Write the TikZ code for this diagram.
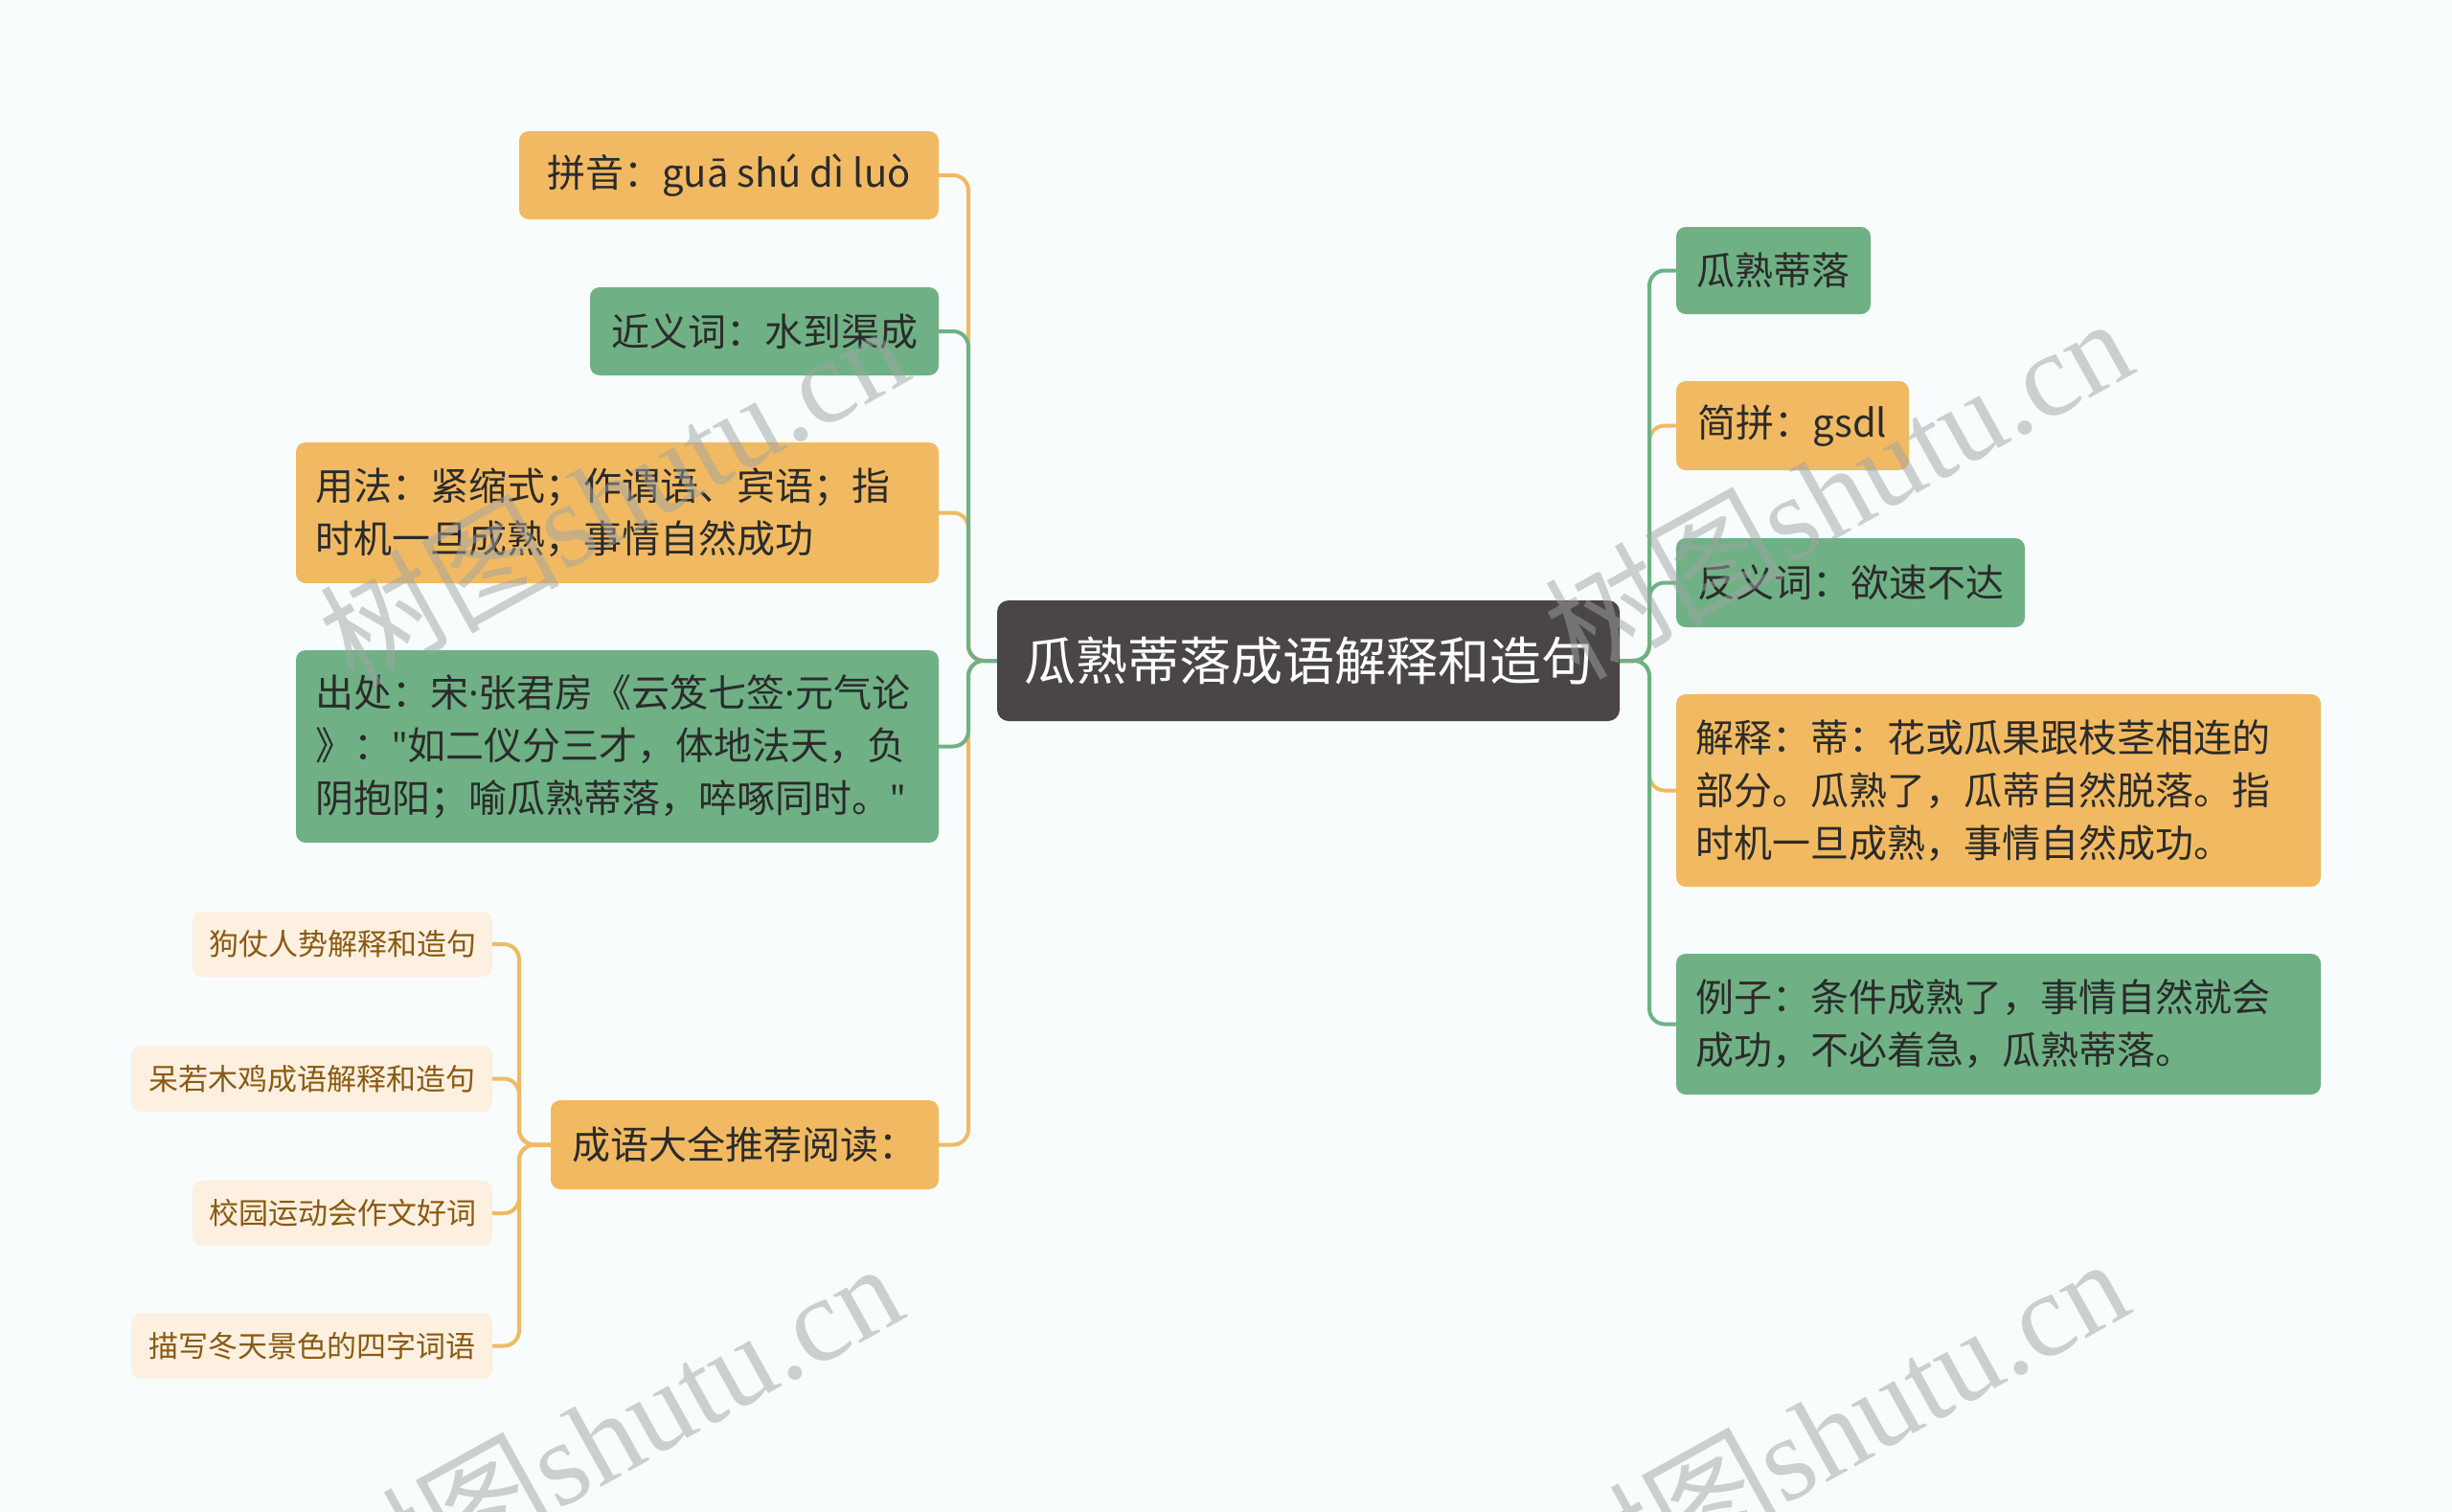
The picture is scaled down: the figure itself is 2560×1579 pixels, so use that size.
\documentclass[tikz,border=0pt]{standalone}
\usepackage{fontspec}
\setmainfont{Noto Sans CJK SC}
\newfontfamily\wmlatin{Liberation Serif}
\newfontfamily\latf{Noto Sans}
\newcommand{\mdot}{{\latf\symbol{"00B7}}}
\newcommand{\sq}{{\latf\symbol{34}}}
\usetikzlibrary{calc}
\definecolor{bg}{HTML}{F8FCFC}
\definecolor{org}{HTML}{F1BA62}
\definecolor{grn}{HTML}{6FB185}
\definecolor{dark}{HTML}{4A4546}
\definecolor{lite}{HTML}{FDF0E0}
\definecolor{brown}{HTML}{8A5A12}
\definecolor{txt}{HTML}{2B2B2B}
\definecolor{wm}{HTML}{9EA4A4}
\begin{document}
\begin{tikzpicture}[x=1pt,y=-1pt,
  box/.style={rounded corners=10pt, inner sep=0pt, text=txt, font=\fontsize{40}{55}\selectfont},
  obox/.style={box, fill=org},
  gbox/.style={box, fill=grn},
  sbox/.style={box, fill=lite, text=brown, font=\fontsize{31}{40}\selectfont},
  cbox/.style={box, fill=dark, text=white, rounded corners=12pt, font=\fontsize{54}{60}\selectfont},
  conn/.style={line width=4pt, rounded corners=16pt},
  oconn/.style={conn, draw=org},
  gconn/.style={conn, draw=grn},
  wmark/.style={text=wm, text opacity=0.5, rotate=29, inner sep=0pt, font=\fontsize{125}{130}\selectfont}
]
\fill[bg] (0,0) rectangle (2560,1579);
\useasboundingbox (0,0) rectangle (2560,1579);

% central
\node[cbox, minimum width=650pt, minimum height=126pt] (c) at (1366,690) {瓜熟蒂落成语解释和造句};

% left children
\node[obox, minimum width=438pt, minimum height=92pt] (n1) at (761,183) {拼音：guā shú dì luò};
\node[gbox, minimum width=364pt, minimum height=92pt] (n2) at (798,346) {近义词：水到渠成};
\node[obox, minimum width=671pt, minimum height=147pt, text width=631pt, align=left] (n3) at (644.5,535.5) {用法：紧缩式；作谓语、宾语；指\\时机一旦成熟，事情自然成功};
\node[gbox, minimum width=671pt, minimum height=201pt, text width=631pt, align=left] (n4) at (644.5,779.5) {出处：宋\mdot 张君房《云笈七签\mdot 元气论\\》：\sq 如二仪分三才，体地法天，负\\阴抱阳；喻瓜熟蒂落，啐啄同时。\sq};
\node[obox, minimum width=405pt, minimum height=93pt] (n5) at (777.5,1195.5) {成语大全推荐阅读：};

% sub children
\node[sbox, minimum width=313pt, minimum height=68pt] (s1) at (357.5,986) {狗仗人势解释和造句};
\node[sbox, minimum width=377pt, minimum height=69pt] (s2) at (325.5,1126.5) {呆若木鸡成语解释和造句};
\node[sbox, minimum width=313pt, minimum height=68pt] (s3) at (357.5,1267) {校园运动会作文好词};
\node[sbox, minimum width=377pt, minimum height=69pt] (s4) at (325.5,1405.5) {描写冬天景色的四字词语};

% right children
\node[gbox, minimum width=203pt, minimum height=91pt] (r1) at (1851.5,282.5) {瓜熟蒂落};
\node[obox, minimum width=243pt, minimum height=93pt] (r2) at (1871.5,444.5) {简拼：gsdl};
\node[gbox, minimum width=364pt, minimum height=93pt] (r3) at (1932,608.5) {反义词：欲速不达};
\node[obox, minimum width=673pt, minimum height=201pt, text width=633pt, align=left] (r4) at (2086.5,825.5) {解释：蒂：花或瓜果跟枝茎相连的\\部分。瓜熟了，瓜蒂自然脱落。指\\时机一旦成熟，事情自然成功。};
\node[gbox, minimum width=673pt, minimum height=147pt, text width=633pt, align=left] (r5) at (2086.5,1069.5) {例子：条件成熟了，事情自然就会\\成功，不必着急，瓜熟蒂落。};

% trunks
\coordinate (LT) at (1011,690);
\coordinate (RT) at (1722,690);
\coordinate (ST) at (542,1195.5);

% connectors
\draw[oconn] (n1.east) -| (LT) -- (c.west);
\draw[oconn] (n3.east) -| (LT) -- (c.west);
\draw[oconn] (n5.east) -| (LT) -- (c.west);
\draw[gconn] (n2.east) -| (LT) -- (c.west);
\draw[gconn] (n4.east) -| (LT) -- (c.west);

\draw[oconn] (r2.west) -| (RT) -- (c.east);
\draw[oconn] (r4.west) -| (RT) -- (c.east);
\draw[gconn] (r1.west) -| (RT) -- (c.east);
\draw[gconn] (r3.west) -| (RT) -- (c.east);
\draw[gconn] (r5.west) -| (RT) -- (c.east);

\draw[oconn] (s1.east) -| (ST) -- (n5.west);
\draw[oconn] (s2.east) -| (ST) -- (n5.west);
\draw[oconn] (s3.east) -| (ST) -- (n5.west);
\draw[oconn] (s4.east) -| (ST) -- (n5.west);

% watermarks
\node[wmark] (w1) at (640,515) {树图{\wmlatin shutu.cn}};
\node[wmark] (w2) at (1918,508) {树图{\wmlatin shutu.cn}};
\node[wmark] (w3) at (634,1495) {树图{\wmlatin shutu.cn}};
\node[wmark] (w4) at (1914,1490) {树图{\wmlatin shutu.cn}};
\end{tikzpicture}
\end{document}
